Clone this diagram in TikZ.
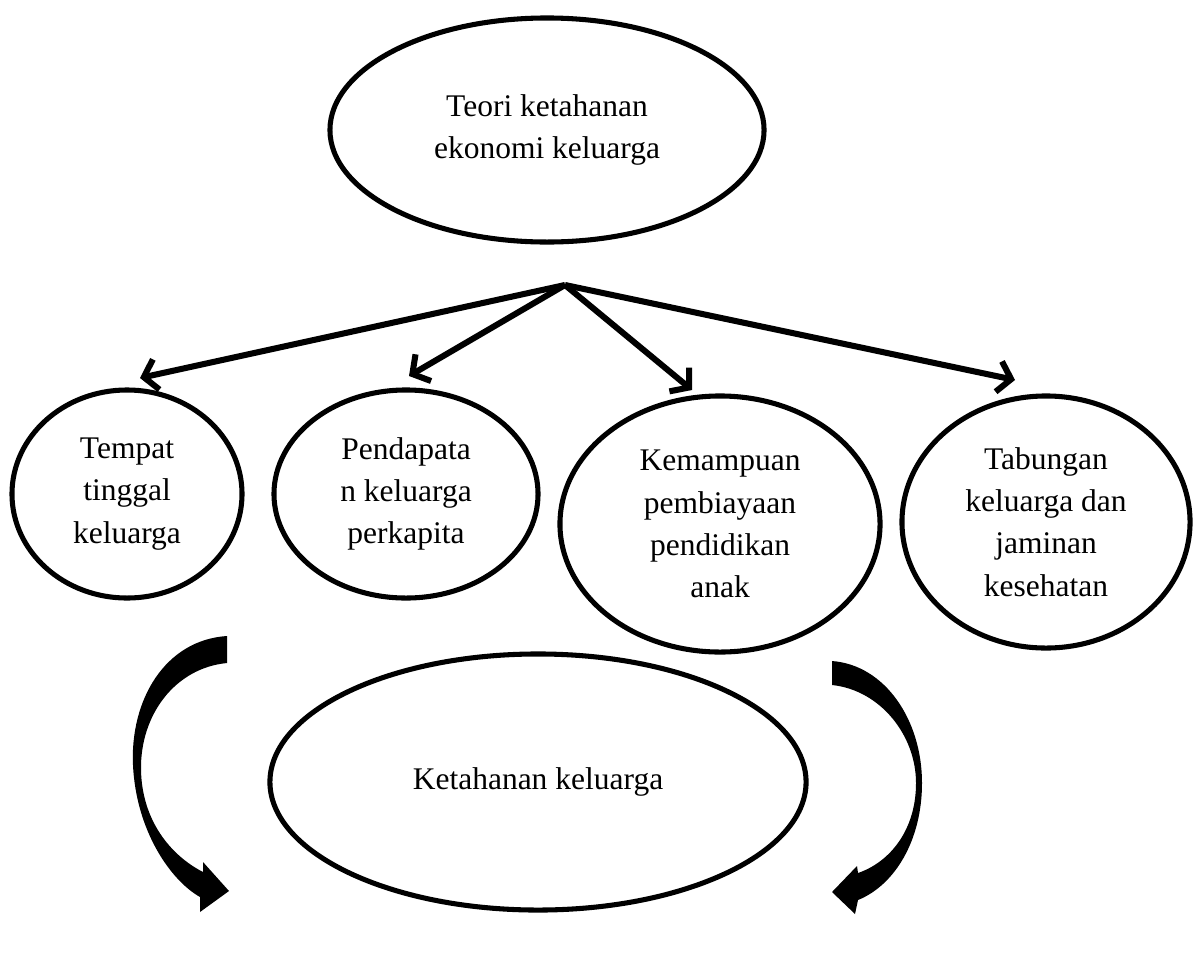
\documentclass[tikz,border=0pt]{standalone}
\usepackage{fontspec}
\setmainfont{Liberation Serif}
\usetikzlibrary{shapes.geometric,arrows.meta}

\begin{document}
\begin{tikzpicture}[x=0.025cm, y=-0.025cm, line width=3.6pt,
  bulat/.style={ellipse, draw, align=center, inner sep=0pt, font=\fontsize{22.4}{30}\selectfont},
  panah/.style={line width=4.3pt, -{Straight Barb[length=9pt,width=22pt]}}]
\useasboundingbox (0,0) rectangle (1200,974);

\draw (547,130) node[bulat, minimum width=10.85cm, minimum height=5.6cm](teori){Teori ketahanan\\ekonomi keluarga}
    (127,494) node[bulat, minimum width=5.75cm, minimum height=5.2cm](tempat){Tempat\\tinggal\\keluarga}
    (406,494) node[bulat, minimum width=6.6cm, minimum height=5.2cm](pendapatan){Pendapata\\n keluarga\\perkapita}
    (720,524) node[bulat, minimum width=8cm, minimum height=6.4cm](pendidikan){Kemampuan\\pembiayaan\\pendidikan\\anak}
    (1046,522) node[bulat, minimum width=7.2cm, minimum height=6.3cm](tabungan){Tabungan\\keluarga dan\\jaminan\\kesehatan}
    (538,782) node[bulat, minimum width=13.4cm, minimum height=6.4cm](ketahanan){Ketahanan keluarga};

\coordinate (cabang) at (565,285);
\coordinate (u1) at (140,378);
\coordinate (u2) at (409,376);
\coordinate (u3) at (692,390);
\coordinate (u4) at (1015,380);

    \draw[panah] (cabang) -- (u1);
    \draw[panah] (cabang) -- (u2);
    \draw[panah] (cabang) -- (u3);
    \draw[panah] (cabang) -- (u4);

% panah lengkung kiri
\fill (227,636) .. controls (165,640) and (130,700) .. (133,765)
    .. controls (136,830) and (170,880) .. (200,897)
    -- (200,912) -- (229,891) -- (203,862) -- (203,872)
    .. controls (170,855) and (142,820) .. (141,770)
    .. controls (140,715) and (175,668) .. (227,663) -- cycle;
% panah lengkung kanan
\fill (832,661) .. controls (885,665) and (922,720) .. (922,783)
    .. controls (922,840) and (895,885) .. (858,900)
    -- (855,914) -- (832,892) -- (857,866) -- (858,873)
    .. controls (890,862) and (916,830) .. (916,783)
    .. controls (916,735) and (880,690) .. (832,685) -- cycle;

\end{tikzpicture}
\end{document}
